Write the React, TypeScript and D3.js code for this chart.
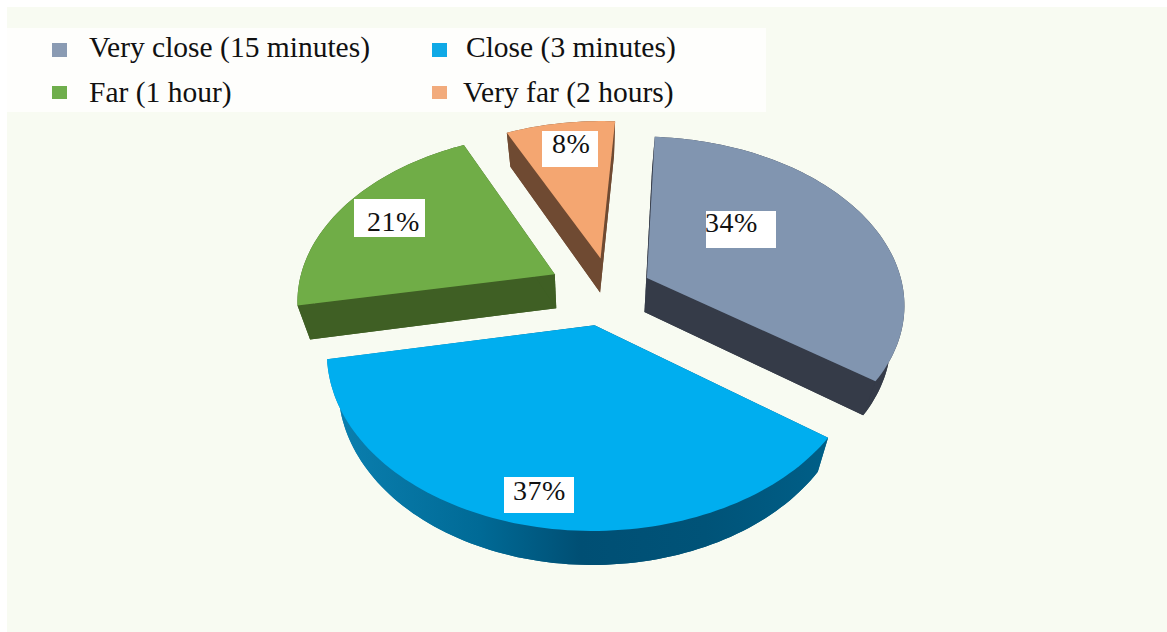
import React from "react";
import * as d3 from "d3";

// Share of respondents per perceived distance band
const categories = ["Very close (15 minutes)", "Close (3 minutes)", "Far (1 hour)", "Very far (2 hours)"];
const shares = [34, 37, 21, 8];

const topColors = ["#8195b0", "#00aeef", "#70ad47", "#f4a671"];
const wallColors = ["#353b48", "url(#blueWall)", "#3f5f24", "#6f4a32"];
const swatchColors = ["#8a9bb3", "#0fa9e6", "#6fae4c", "#f2ab7c"];

// Hand-placed legend rows and value-label boxes
const legendLayout = [
  { sx: 52, sy: 43, sw: 15, sh: 14, tx: 89, ty: 57 },
  { sx: 432, sy: 43, sw: 15, sh: 14, tx: 466, ty: 57 },
  { sx: 52, sy: 86, sw: 15, sh: 13, tx: 89, ty: 102 },
  { sx: 432, sy: 86, sw: 15, sh: 13, tx: 463, ty: 102 },
];
const labelLayout = [
  { x: 706, y: 211, w: 70, h: 37, tx: 705, ty: 232 },
  { x: 504, y: 477, w: 70, h: 36, tx: 513, ty: 500 },
  { x: 354, y: 199, w: 71, h: 38, tx: 367, ty: 231 },
  { x: 542, y: 131, w: 56, h: 36, tx: 552, ty: 153 },
];
// Small screen-space corrections applied to each exploded slice
const sliceNudge: [number, number][] = [
  [-3, 2],
  [2, 2],
  [-4, -1],
  [6, 0],
];

// Perspective view of the pie's plane: disk coordinates to screen
const view = { cx: 604, cy: 290, a: 257, b: 165.5, p: 0.144 };
const explode = 0.2;
const depth = { vanishX: 590, shrink: 0.957, drop: 34 };
const rotation = (3.5 * Math.PI) / 180;

const project = (u: number, v: number): [number, number] => {
  const w = 1 + view.p * v;
  return [view.cx + (view.a * u) / w, view.cy - (view.b * v) / w];
};
const lower = ([x, y]: [number, number]): [number, number] => [
  depth.vanishX + (x - depth.vanishX) * depth.shrink,
  y + depth.drop,
];

const pie = d3
  .pie<number>()
  .sort(null)
  .startAngle(rotation)
  .endAngle(rotation + 2 * Math.PI);
const line = d3.line();

// Outline of one exploded slice on the top plane, apex first
function sliceOutline(start: number, end: number, nudge: [number, number]): [number, number][] {
  const mid = (start + end) / 2;
  const ou = explode * Math.sin(mid);
  const ov = explode * Math.cos(mid);
  const steps = Math.max(8, Math.round((end - start) * 40));
  const angle = d3.scaleLinear().domain([0, steps]).range([start, end]);
  const rim = d3.range(steps + 1).map((i) => {
    const t = angle(i);
    return project(ou + Math.sin(t), ov + Math.cos(t));
  });
  return [project(ou, ov), ...rim].map(([x, y]) => [x + nudge[0], y + nudge[1]] as [number, number]);
}

export default function App() {
  const arcs = pie(shares);
  return (
    <svg
      width={1167}
      height={632}
      viewBox="0 0 1167 632"
      style={{ position: "absolute", left: 0, top: 0, display: "block" }}
    >
      <defs>
        <linearGradient id="blueWall" gradientUnits="userSpaceOnUse" x1={330} x2={830} y1={0} y2={0}>
          <stop offset="0" stopColor="#0b80b0" />
          <stop offset="0.3" stopColor="#006a96" />
          <stop offset="0.5" stopColor="#004f74" />
          <stop offset="0.75" stopColor="#005378" />
          <stop offset="1" stopColor="#005f88" />
        </linearGradient>
      </defs>
      <rect x={0} y={0} width={1167} height={632} fill="#ffffff" />
      <rect x={7} y={7} width={1160} height={625} fill="#f8fbf2" />
      <rect x={7} y={28} width={759} height={84} fill="#fefefc" />

      {arcs.map((arc, i) => {
        const outline = sliceOutline(arc.startAngle, arc.endAngle, sliceNudge[i]);
        const apex = outline[0];
        const rim = outline.slice(1);
        const first = rim[0];
        const last = rim[rim.length - 1];
        const strip = [...rim, ...rim.map(lower).reverse()];
        const sideA = [apex, first, lower(first), lower(apex)];
        const sideB = [apex, last, lower(last), lower(apex)];
        return (
          <g key={categories[i]} fill={wallColors[i]}>
            <path d={line(outline.map(lower)) + "Z"} />
            <path d={line(strip) + "Z"} />
            <path d={line(sideA) + "Z"} />
            <path d={line(sideB) + "Z"} />
            <path d={line(outline) + "Z"} fill={topColors[i]} />
          </g>
        );
      })}

      {categories.map((name, i) => {
        const l = legendLayout[i];
        return (
          <g key={name}>
            <rect x={l.sx} y={l.sy} width={l.sw} height={l.sh} fill={swatchColors[i]} />
            <text x={l.tx} y={l.ty} fontFamily="Liberation Serif" fontSize={29.5} fill="#111111">
              {name}
            </text>
          </g>
        );
      })}

      {shares.map((value, i) => {
        const l = labelLayout[i];
        return (
          <g key={i}>
            <rect x={l.x} y={l.y} width={l.w} height={l.h} fill="#ffffff" />
            <text
              x={l.tx}
              y={l.ty}
              fontFamily="Liberation Serif"
              fontSize={28}
              letterSpacing={0.5}
              fill="#111111"
            >
              {value}%
            </text>
          </g>
        );
      })}
    </svg>
  );
}
